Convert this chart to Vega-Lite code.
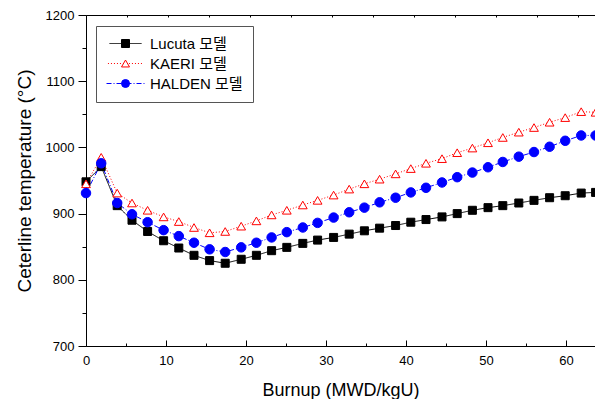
{
  "$schema": "https://vega.github.io/schema/vega-lite/v6.json",
  "width": 509,
  "height": 331,
  "autosize": {"type": "none"},
  "padding": {"left": 86, "top": 15, "right": 0, "bottom": 53},
  "background": "white",
  "config": {
    "font": "Liberation Sans, Arial, Noto Sans CJK KR, sans-serif",
    "view": {"stroke": null}
  },
  "datasets": {
    "d": [
      {"b": 0.0, "m": "Lucuta 모델", "t": 948}, {"b": 0.0, "m": "KAERI 모델", "t": 945}, {"b": 0.0, "m": "HALDEN 모델", "t": 931},
      {"b": 1.9, "m": "Lucuta 모델", "t": 971}, {"b": 1.9, "m": "KAERI 모델", "t": 985}, {"b": 1.9, "m": "HALDEN 모델", "t": 976},
      {"b": 3.9, "m": "Lucuta 모델", "t": 912}, {"b": 3.9, "m": "KAERI 모델", "t": 931}, {"b": 3.9, "m": "HALDEN 모델", "t": 916},
      {"b": 5.75, "m": "Lucuta 모델", "t": 890}, {"b": 5.75, "m": "KAERI 모델", "t": 916}, {"b": 5.75, "m": "HALDEN 모델", "t": 899},
      {"b": 7.7, "m": "Lucuta 모델", "t": 873}, {"b": 7.7, "m": "KAERI 모델", "t": 905}, {"b": 7.7, "m": "HALDEN 모델", "t": 887},
      {"b": 9.7, "m": "Lucuta 모델", "t": 859}, {"b": 9.7, "m": "KAERI 모델", "t": 895}, {"b": 9.7, "m": "HALDEN 모델", "t": 875},
      {"b": 11.6, "m": "Lucuta 모델", "t": 848}, {"b": 11.6, "m": "KAERI 모델", "t": 888}, {"b": 11.6, "m": "HALDEN 모델", "t": 866},
      {"b": 13.5, "m": "Lucuta 모델", "t": 837}, {"b": 13.5, "m": "KAERI 모델", "t": 879}, {"b": 13.5, "m": "HALDEN 모델", "t": 856},
      {"b": 15.45, "m": "Lucuta 모델", "t": 829}, {"b": 15.45, "m": "KAERI 모델", "t": 871}, {"b": 15.45, "m": "HALDEN 모델", "t": 846},
      {"b": 17.4, "m": "Lucuta 모델", "t": 825}, {"b": 17.4, "m": "KAERI 모델", "t": 873}, {"b": 17.4, "m": "HALDEN 모델", "t": 842},
      {"b": 19.4, "m": "Lucuta 모델", "t": 831}, {"b": 19.4, "m": "KAERI 모델", "t": 881}, {"b": 19.4, "m": "HALDEN 모델", "t": 849},
      {"b": 21.3, "m": "Lucuta 모델", "t": 837}, {"b": 21.3, "m": "KAERI 모델", "t": 889}, {"b": 21.3, "m": "HALDEN 모델", "t": 856},
      {"b": 23.2, "m": "Lucuta 모델", "t": 844}, {"b": 23.2, "m": "KAERI 모델", "t": 898}, {"b": 23.2, "m": "HALDEN 모델", "t": 864},
      {"b": 25.1, "m": "Lucuta 모델", "t": 849}, {"b": 25.1, "m": "KAERI 모델", "t": 905}, {"b": 25.1, "m": "HALDEN 모델", "t": 872},
      {"b": 27.1, "m": "Lucuta 모델", "t": 855}, {"b": 27.1, "m": "KAERI 모델", "t": 913}, {"b": 27.1, "m": "HALDEN 모델", "t": 879},
      {"b": 28.95, "m": "Lucuta 모델", "t": 860}, {"b": 28.95, "m": "KAERI 모델", "t": 920}, {"b": 28.95, "m": "HALDEN 모델", "t": 886},
      {"b": 30.95, "m": "Lucuta 모델", "t": 864}, {"b": 30.95, "m": "KAERI 모델", "t": 928}, {"b": 30.95, "m": "HALDEN 모델", "t": 894},
      {"b": 32.9, "m": "Lucuta 모델", "t": 869}, {"b": 32.9, "m": "KAERI 모델", "t": 937}, {"b": 32.9, "m": "HALDEN 모델", "t": 902},
      {"b": 34.8, "m": "Lucuta 모델", "t": 874}, {"b": 34.8, "m": "KAERI 모델", "t": 945}, {"b": 34.8, "m": "HALDEN 모델", "t": 909},
      {"b": 36.7, "m": "Lucuta 모델", "t": 878}, {"b": 36.7, "m": "KAERI 모델", "t": 952}, {"b": 36.7, "m": "HALDEN 모델", "t": 917},
      {"b": 38.7, "m": "Lucuta 모델", "t": 882}, {"b": 38.7, "m": "KAERI 모델", "t": 960}, {"b": 38.7, "m": "HALDEN 모델", "t": 924},
      {"b": 40.6, "m": "Lucuta 모델", "t": 887}, {"b": 40.6, "m": "KAERI 모델", "t": 968}, {"b": 40.6, "m": "HALDEN 모델", "t": 932},
      {"b": 42.5, "m": "Lucuta 모델", "t": 891}, {"b": 42.5, "m": "KAERI 모델", "t": 976}, {"b": 42.5, "m": "HALDEN 모델", "t": 939},
      {"b": 44.5, "m": "Lucuta 모델", "t": 895}, {"b": 44.5, "m": "KAERI 모델", "t": 983}, {"b": 44.5, "m": "HALDEN 모델", "t": 947},
      {"b": 46.4, "m": "Lucuta 모델", "t": 900}, {"b": 46.4, "m": "KAERI 모델", "t": 992}, {"b": 46.4, "m": "HALDEN 모델", "t": 955},
      {"b": 48.3, "m": "Lucuta 모델", "t": 905}, {"b": 48.3, "m": "KAERI 모델", "t": 999}, {"b": 48.3, "m": "HALDEN 모델", "t": 962},
      {"b": 50.25, "m": "Lucuta 모델", "t": 909}, {"b": 50.25, "m": "KAERI 모델", "t": 1007}, {"b": 50.25, "m": "HALDEN 모델", "t": 970},
      {"b": 52.1, "m": "Lucuta 모델", "t": 912}, {"b": 52.1, "m": "KAERI 모델", "t": 1015}, {"b": 52.1, "m": "HALDEN 모델", "t": 978},
      {"b": 54.1, "m": "Lucuta 모델", "t": 916}, {"b": 54.1, "m": "KAERI 모델", "t": 1023}, {"b": 54.1, "m": "HALDEN 모델", "t": 986},
      {"b": 56.0, "m": "Lucuta 모델", "t": 920}, {"b": 56.0, "m": "KAERI 모델", "t": 1030}, {"b": 56.0, "m": "HALDEN 모델", "t": 993},
      {"b": 57.95, "m": "Lucuta 모델", "t": 924}, {"b": 57.95, "m": "KAERI 모델", "t": 1038}, {"b": 57.95, "m": "HALDEN 모델", "t": 1001},
      {"b": 59.9, "m": "Lucuta 모델", "t": 927}, {"b": 59.9, "m": "KAERI 모델", "t": 1045}, {"b": 59.9, "m": "HALDEN 모델", "t": 1010},
      {"b": 61.9, "m": "Lucuta 모델", "t": 931}, {"b": 61.9, "m": "KAERI 모델", "t": 1054}, {"b": 61.9, "m": "HALDEN 모델", "t": 1018},
      {"b": 63.7, "m": "Lucuta 모델", "t": 932}, {"b": 63.7, "m": "KAERI 모델", "t": 1053}, {"b": 63.7, "m": "HALDEN 모델", "t": 1018}
    ]
  },
  "data": {"name": "d"},
  "resolve": {"axis": {"x": "independent", "y": "independent"}},
  "layer": [
    {
      "mark": {"type": "line", "strokeWidth": 1},
      "encoding": {
        "x": {
          "field": "b", "type": "quantitative",
          "scale": {"domain": [0, 63.625], "nice": false, "zero": false},
          "axis": {
            "orient": "bottom",
            "values": [0, 5, 10, 15, 20, 25, 30, 35, 40, 45, 50, 55, 60],
            "format": "d",
            "labelExpr": "datum.value % 10 === 0 ? datum.label : ''",
            "tickSize": {"condition": {"test": "datum.value % 10 === 0", "value": -6}, "value": -3},
            "tickColor": "black", "domainColor": "black", "grid": false,
            "labelFlush": false, "labelFontSize": 13, "labelColor": "black", "labelPadding": 14,
            "title": "Burnup (MWD/kgU)", "titleFontSize": 18, "titleFontWeight": "normal",
            "titleColor": "black", "titlePadding": 14
          }
        },
        "y": {
          "field": "t", "type": "quantitative",
          "scale": {"domain": [700, 1200], "nice": false, "zero": false},
          "axis": {
            "orient": "left",
            "values": [700, 750, 800, 850, 900, 950, 1000, 1050, 1100, 1150, 1200],
            "format": "d",
            "labelExpr": "datum.value % 100 === 0 ? datum.label : ''",
            "tickSize": {"condition": {"test": "datum.value % 100 === 0", "value": 8}, "value": 4},
            "tickColor": "black", "domainColor": "black", "grid": false,
            "labelFontSize": 13, "labelColor": "black", "labelPadding": 4,
            "title": "Ceterline temperature (°C)", "titleFontSize": 19, "titleFontWeight": "normal",
            "titleColor": "black", "titlePadding": 11
          }
        },
        "color": {
          "field": "m", "type": "nominal",
          "scale": {"domain": ["Lucuta 모델", "KAERI 모델", "HALDEN 모델"], "range": ["#000000", "#ff0000", "#0000ff"]},
          "legend": {
            "orient": "none", "legendX": 10, "legendY": 11, "title": null,
            "padding": 10, "rowPadding": 4, "strokeColor": "#555555", "fillColor": null,
            "symbolType": "M-4,0H4", "symbolSize": 81, "symbolStrokeWidth": 1, "symbolOffset": 12,
            "labelOffset": 17, "labelFontSize": 15, "labelColor": "black", "labelLimit": 300
          }
        },
        "strokeDash": {
          "field": "m", "type": "nominal",
          "scale": {"domain": ["Lucuta 모델", "KAERI 모델", "HALDEN 모델"], "range": [[1, 0], [1, 2], [5, 2, 1, 2]]},
          "legend": {
            "orient": "none", "legendX": 10, "legendY": 11, "title": null,
            "padding": 10, "rowPadding": 4, "strokeColor": "#555555", "fillColor": null,
            "symbolType": "M-4,0H4", "symbolSize": 81, "symbolStrokeWidth": 1, "symbolOffset": 12,
            "labelOffset": 17, "labelFontSize": 15, "labelColor": "black", "labelLimit": 300
          }
        }
      }
    },
    {
      "mark": {"type": "point", "opacity": 1, "strokeWidth": 1},
      "encoding": {
        "x": {
          "field": "b", "type": "quantitative",
          "scale": {"domain": [0, 63.625], "nice": false, "zero": false},
          "axis": {
            "orient": "top",
            "values": [0, 5.125, 10.25, 15.375, 20.5, 25.625, 30.75, 35.875, 41, 46.125, 51.25, 56.375, 61.5],
            "labels": false, "tickSize": -2, "title": null,
            "tickColor": "black", "domainColor": "black", "grid": false
          }
        },
        "y": {
          "field": "t", "type": "quantitative",
          "scale": {"domain": [700, 1200], "nice": false, "zero": false},
          "axis": null
        },
        "shape": {
          "field": "m", "type": "nominal",
          "scale": {"domain": ["Lucuta 모델", "KAERI 모델", "HALDEN 모델"], "range": ["square", "triangle-up", "circle"]},
          "legend": {
            "orient": "top-left", "offset": 11, "title": null,
            "padding": 10, "rowPadding": 4,
            "symbolSize": 64, "symbolStrokeWidth": 1, "symbolOffset": 11,
            "labelFontSize": 15, "labelExpr": "' '",
            "encode": {"symbols": {"update": {
              "fill": {"scale": "fill", "field": "value"},
              "stroke": {"scale": "stroke", "field": "value"},
              "opacity": {"value": 1}
            }}}
          }
        },
        "fill": {
          "field": "m", "type": "nominal",
          "scale": {"domain": ["Lucuta 모델", "KAERI 모델", "HALDEN 모델"], "range": ["#000000", "#ffffff", "#0000ff"]},
          "legend": null
        },
        "stroke": {
          "field": "m", "type": "nominal",
          "scale": {"domain": ["Lucuta 모델", "KAERI 모델", "HALDEN 모델"], "range": ["#000000", "#ff0000", "#0000ff"]},
          "legend": null
        },
        "size": {
          "field": "m", "type": "nominal",
          "scale": {"domain": ["Lucuta 모델", "KAERI 모델", "HALDEN 모델"], "range": [64, 90, 70]},
          "legend": null
        }
      }
    }
  ]
}
